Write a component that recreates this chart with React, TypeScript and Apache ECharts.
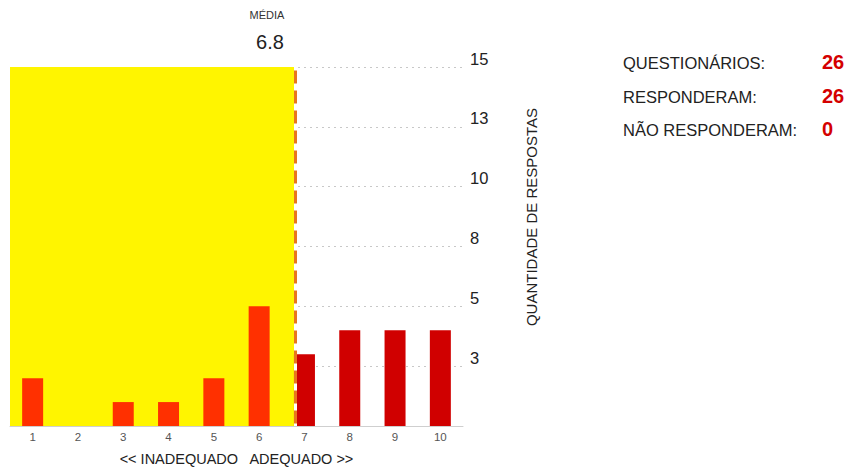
import React, { useEffect, useRef } from "react";
import * as echarts from "echarts";

const categories = ["1", "2", "3", "4", "5", "6", "7", "8", "9", "10"];
const counts = [2, 0, 1, 1, 2, 5, 3, 4, 4, 4];
const yTicks = [0, 2.5, 5, 7.5, 10, 12.5, 15];
const infoLabels = ["QUESTIONÁRIOS:", "RESPONDERAM:", "NÃO RESPONDERAM:"];
const infoValues = [26, 26, 0];
const xAxisName = "<< INADEQUADO   ADEQUADO >>";
const yAxisName = "QUANTIDADE DE RESPOSTAS";
const meanLabel = "MÉDIA";

const FONT = "'Liberation Sans', Arial, Helvetica, sans-serif";

export default function App() {
  const ref = useRef<HTMLDivElement>(null);
  useEffect(() => {
    if (!ref.current) return;
    const chart = echarts.init(ref.current, null, { renderer: "svg" });
    const total = counts.reduce((a, b) => a + b, 0);
    const sum = counts.reduce((a, c, i) => a + c * Number(categories[i]), 0);
    const mean = Math.round((sum / total) * 10) / 10;

    const graphics: any[] = [
      {
        type: "text",
        x: 267,
        y: 15,
        style: { text: meanLabel, font: `11px ${FONT}`, fill: "#333", align: "center", verticalAlign: "middle" },
      },
      {
        type: "text",
        x: 270,
        y: 42,
        style: { text: mean.toFixed(1), font: `20px ${FONT}`, fill: "#222", align: "center", verticalAlign: "middle" },
      },
      {
        type: "text",
        x: 531,
        y: 217,
        rotation: Math.PI / 2,
        style: { text: yAxisName, font: `15px ${FONT}`, fill: "#222", align: "center", verticalAlign: "middle" },
      },
    ];
    infoLabels.forEach((t, i) => {
      graphics.push({
        type: "text",
        x: 623,
        y: 63 + i * 33.5,
        style: { text: t, font: `16.5px ${FONT}`, fill: "#222", align: "left", verticalAlign: "middle" },
      });
      graphics.push({
        type: "text",
        x: 822,
        y: 62 + i * 33.5,
        style: { text: String(infoValues[i]), font: `bold 20px ${FONT}`, fill: "#d40000", align: "left", verticalAlign: "middle" },
      });
    });

    chart.setOption({
      animation: false,
      grid: { left: 10, right: 393, top: 67, bottom: 41, containLabel: false },
      xAxis: [
        {
          type: "category",
          data: categories,
          axisLine: { show: true, lineStyle: { color: "#cfcfcf", width: 1 } },
          axisTick: { show: false },
          axisLabel: { color: "#555", fontSize: 11.5, fontFamily: FONT, margin: 5 },
          name: xAxisName,
          nameLocation: "middle",
          nameGap: 25,
          nameTextStyle: { color: "#222", fontSize: 14.5, fontFamily: FONT },
        },
        { type: "value", min: 0.5, max: 10.5, show: false },
      ],
      yAxis: {
        type: "value",
        position: "right",
        min: 0,
        max: 15,
        interval: 2.5,
        axisLine: { show: false },
        axisTick: { show: false },
        axisLabel: {
          color: "#222",
          fontSize: 16.5,
          fontFamily: FONT,
          margin: 7,
          verticalAlign: "bottom",
          formatter: (v: number) => (v === 0 ? "" : String(Math.round(v))),
        },
        splitLine: { show: true, lineStyle: { color: "#c8c8c8", type: [2, 4], width: 1 } },
      },
      series: [
        {
          type: "line",
          xAxisIndex: 1,
          data: [],
          z: 1,
          silent: true,
          markArea: {
            silent: true,
            itemStyle: { color: "#fff500", opacity: 1 },
            data: [[{ xAxis: 0.5, yAxis: 15 }, { xAxis: mean, yAxis: 0 }]],
          },
          markLine: {
            silent: true,
            symbol: "none",
            label: { show: false },
            data: [
              [
                { xAxis: mean, yAxis: 15, lineStyle: { color: "#ffffff", width: 3, type: "solid" } },
                { xAxis: mean, yAxis: 0 },
              ],
              [
                { xAxis: mean, yAxis: 14.85, lineStyle: { color: "#e8761e", width: 3, type: [13, 7] } },
                { xAxis: mean, yAxis: 0 },
              ],
            ],
          },
        },
        {
          type: "bar",
          z: 3,
          barWidth: 21,
          data: counts.map((c, i) => ({
            value: c,
            itemStyle: { color: Number(categories[i]) <= mean ? "#ff3000" : "#d00000" },
          })),
        },
      ],
      graphic: graphics,
    });
    return () => chart.dispose();
  }, []);
  return <div ref={ref} style={{ width: 856, height: 471, position: "absolute", left: 0, top: 0, background: "#fff" }} />;
}
